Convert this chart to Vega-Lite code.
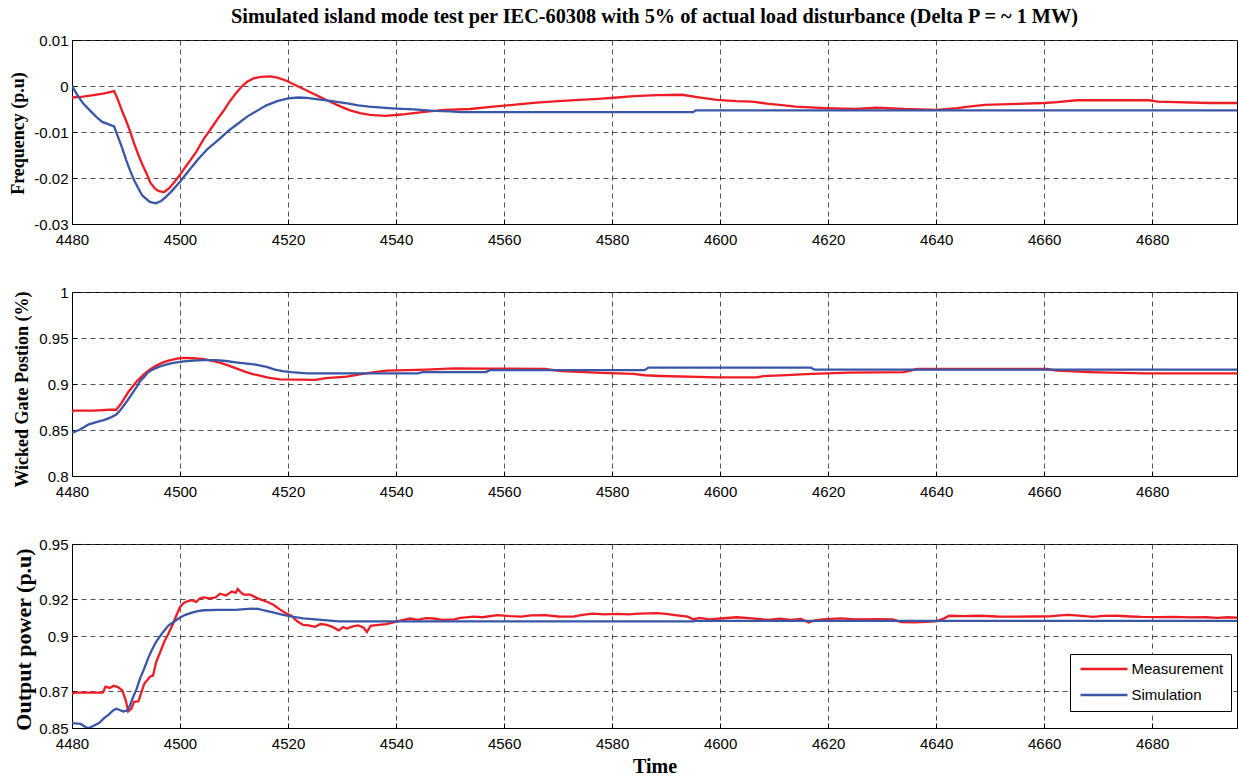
{
  "$schema": "https://vega.github.io/schema/vega-lite/v6.json",
  "background": "white",
  "padding": {"left": 8, "top": 6, "right": 0, "bottom": 0},
  "spacing": 68,
  "bounds": "flush",
  "datasets": {
    "freq": [
      {"t":4480,"v":-0.0025,"s":"Measurement"},{"t":4482,"v":-0.0023,"s":"Measurement"},{"t":4484,"v":-0.002,"s":"Measurement"},{"t":4486,"v":-0.0016,"s":"Measurement"},{"t":4487.8,"v":-0.0011,"s":"Measurement"},{"t":4488.5,"v":-0.003,"s":"Measurement"},{"t":4489.3,"v":-0.0055,"s":"Measurement"},{"t":4490,"v":-0.0075,"s":"Measurement"},{"t":4490.8,"v":-0.01,"s":"Measurement"},{"t":4491.5,"v":-0.0125,"s":"Measurement"},{"t":4492.3,"v":-0.015,"s":"Measurement"},{"t":4493,"v":-0.017,"s":"Measurement"},{"t":4493.8,"v":-0.019,"s":"Measurement"},{"t":4494.5,"v":-0.021,"s":"Measurement"},{"t":4495.3,"v":-0.0222,"s":"Measurement"},{"t":4496,"v":-0.0228,"s":"Measurement"},{"t":4497,"v":-0.0231,"s":"Measurement"},{"t":4498,"v":-0.0222,"s":"Measurement"},{"t":4499,"v":-0.0208,"s":"Measurement"},{"t":4500,"v":-0.0193,"s":"Measurement"},{"t":4501,"v":-0.0176,"s":"Measurement"},{"t":4502,"v":-0.016,"s":"Measurement"},{"t":4503,"v":-0.0143,"s":"Measurement"},{"t":4504.4,"v":-0.0115,"s":"Measurement"},{"t":4505,"v":-0.0105,"s":"Measurement"},{"t":4506,"v":-0.0088,"s":"Measurement"},{"t":4507,"v":-0.0071,"s":"Measurement"},{"t":4508,"v":-0.0055,"s":"Measurement"},{"t":4509.3,"v":-0.0032,"s":"Measurement"},{"t":4510.4,"v":-0.0015,"s":"Measurement"},{"t":4511.5,"v":0.0,"s":"Measurement"},{"t":4512.5,"v":0.001,"s":"Measurement"},{"t":4513.7,"v":0.0017,"s":"Measurement"},{"t":4515,"v":0.002,"s":"Measurement"},{"t":4516.7,"v":0.0021,"s":"Measurement"},{"t":4518,"v":0.0018,"s":"Measurement"},{"t":4519.6,"v":0.0012,"s":"Measurement"},{"t":4521,"v":0.0004,"s":"Measurement"},{"t":4522.6,"v":-0.0005,"s":"Measurement"},{"t":4524,"v":-0.0013,"s":"Measurement"},{"t":4525.6,"v":-0.0022,"s":"Measurement"},{"t":4527,"v":-0.003,"s":"Measurement"},{"t":4528.5,"v":-0.0038,"s":"Measurement"},{"t":4530,"v":-0.0046,"s":"Measurement"},{"t":4531.5,"v":-0.0053,"s":"Measurement"},{"t":4533.3,"v":-0.0059,"s":"Measurement"},{"t":4535.2,"v":-0.0063,"s":"Measurement"},{"t":4538,"v":-0.0065,"s":"Measurement"},{"t":4541,"v":-0.0062,"s":"Measurement"},{"t":4544.8,"v":-0.0057,"s":"Measurement"},{"t":4549,"v":-0.0052,"s":"Measurement"},{"t":4553.7,"v":-0.005,"s":"Measurement"},{"t":4558,"v":-0.0045,"s":"Measurement"},{"t":4562.6,"v":-0.004,"s":"Measurement"},{"t":4566,"v":-0.0036,"s":"Measurement"},{"t":4570,"v":-0.0033,"s":"Measurement"},{"t":4574,"v":-0.003,"s":"Measurement"},{"t":4577.4,"v":-0.0028,"s":"Measurement"},{"t":4581,"v":-0.0025,"s":"Measurement"},{"t":4584,"v":-0.0022,"s":"Measurement"},{"t":4588.3,"v":-0.002,"s":"Measurement"},{"t":4593,"v":-0.0019,"s":"Measurement"},{"t":4595.7,"v":-0.0024,"s":"Measurement"},{"t":4599.4,"v":-0.003,"s":"Measurement"},{"t":4603,"v":-0.0033,"s":"Measurement"},{"t":4606,"v":-0.0034,"s":"Measurement"},{"t":4609,"v":-0.0039,"s":"Measurement"},{"t":4611,"v":-0.0041,"s":"Measurement"},{"t":4614,"v":-0.0045,"s":"Measurement"},{"t":4619.4,"v":-0.0048,"s":"Measurement"},{"t":4625,"v":-0.005,"s":"Measurement"},{"t":4629,"v":-0.0047,"s":"Measurement"},{"t":4634,"v":-0.005,"s":"Measurement"},{"t":4640,"v":-0.0052,"s":"Measurement"},{"t":4643.9,"v":-0.0048,"s":"Measurement"},{"t":4646,"v":-0.0045,"s":"Measurement"},{"t":4649,"v":-0.0041,"s":"Measurement"},{"t":4655,"v":-0.0039,"s":"Measurement"},{"t":4660,"v":-0.0037,"s":"Measurement"},{"t":4662.4,"v":-0.0035,"s":"Measurement"},{"t":4666,"v":-0.0031,"s":"Measurement"},{"t":4679.4,"v":-0.0031,"s":"Measurement"},{"t":4681,"v":-0.0034,"s":"Measurement"},{"t":4690.5,"v":-0.0037,"s":"Measurement"},{"t":4696,"v":-0.0037,"s":"Measurement"},
      {"t":4480,"v":0.0,"s":"Simulation"},{"t":4481,"v":-0.002,"s":"Simulation"},{"t":4482,"v":-0.0037,"s":"Simulation"},{"t":4483.3,"v":-0.0053,"s":"Simulation"},{"t":4484.5,"v":-0.0067,"s":"Simulation"},{"t":4485.6,"v":-0.0078,"s":"Simulation"},{"t":4487.8,"v":-0.0088,"s":"Simulation"},{"t":4488.5,"v":-0.011,"s":"Simulation"},{"t":4489.3,"v":-0.0135,"s":"Simulation"},{"t":4490,"v":-0.016,"s":"Simulation"},{"t":4490.8,"v":-0.0185,"s":"Simulation"},{"t":4491.5,"v":-0.0205,"s":"Simulation"},{"t":4492.3,"v":-0.0223,"s":"Simulation"},{"t":4493,"v":-0.0238,"s":"Simulation"},{"t":4494.4,"v":-0.0252,"s":"Simulation"},{"t":4495.5,"v":-0.0255,"s":"Simulation"},{"t":4496.5,"v":-0.025,"s":"Simulation"},{"t":4497.4,"v":-0.0241,"s":"Simulation"},{"t":4498.5,"v":-0.0228,"s":"Simulation"},{"t":4500,"v":-0.0208,"s":"Simulation"},{"t":4501.5,"v":-0.0186,"s":"Simulation"},{"t":4503.3,"v":-0.016,"s":"Simulation"},{"t":4505,"v":-0.0138,"s":"Simulation"},{"t":4507,"v":-0.0118,"s":"Simulation"},{"t":4509,"v":-0.0097,"s":"Simulation"},{"t":4510.7,"v":-0.0082,"s":"Simulation"},{"t":4512.5,"v":-0.0066,"s":"Simulation"},{"t":4514.4,"v":-0.0053,"s":"Simulation"},{"t":4516,"v":-0.0042,"s":"Simulation"},{"t":4518,"v":-0.0033,"s":"Simulation"},{"t":4520,"v":-0.0027,"s":"Simulation"},{"t":4521.9,"v":-0.0025,"s":"Simulation"},{"t":4523.5,"v":-0.0026,"s":"Simulation"},{"t":4525.6,"v":-0.0029,"s":"Simulation"},{"t":4527.5,"v":-0.0032,"s":"Simulation"},{"t":4529.3,"v":-0.0035,"s":"Simulation"},{"t":4531,"v":-0.0038,"s":"Simulation"},{"t":4533,"v":-0.0042,"s":"Simulation"},{"t":4535,"v":-0.0045,"s":"Simulation"},{"t":4537.4,"v":-0.0047,"s":"Simulation"},{"t":4540,"v":-0.0049,"s":"Simulation"},{"t":4543.3,"v":-0.0051,"s":"Simulation"},{"t":4547,"v":-0.0054,"s":"Simulation"},{"t":4550,"v":-0.0055,"s":"Simulation"},{"t":4552,"v":-0.0057,"s":"Simulation"},{"t":4595,"v":-0.0057,"s":"Simulation"},{"t":4595.5,"v":-0.0053,"s":"Simulation"},{"t":4696,"v":-0.0053,"s":"Simulation"}
    ],
    "gate": [
      {"t":4480,"v":0.869,"s":"Measurement"},{"t":4480.3,"v":0.871,"s":"Measurement"},{"t":4484,"v":0.871,"s":"Measurement"},{"t":4487,"v":0.872,"s":"Measurement"},{"t":4488.2,"v":0.872,"s":"Measurement"},{"t":4489,"v":0.878,"s":"Measurement"},{"t":4490.4,"v":0.891,"s":"Measurement"},{"t":4492,"v":0.903,"s":"Measurement"},{"t":4493.4,"v":0.911,"s":"Measurement"},{"t":4494.5,"v":0.916,"s":"Measurement"},{"t":4495.6,"v":0.92,"s":"Measurement"},{"t":4497,"v":0.9237,"s":"Measurement"},{"t":4497.9,"v":0.9254,"s":"Measurement"},{"t":4499,"v":0.927,"s":"Measurement"},{"t":4500,"v":0.928,"s":"Measurement"},{"t":4501,"v":0.9285,"s":"Measurement"},{"t":4502.4,"v":0.928,"s":"Measurement"},{"t":4504.5,"v":0.927,"s":"Measurement"},{"t":4506,"v":0.925,"s":"Measurement"},{"t":4507.5,"v":0.923,"s":"Measurement"},{"t":4509,"v":0.92,"s":"Measurement"},{"t":4510.4,"v":0.917,"s":"Measurement"},{"t":4512,"v":0.9135,"s":"Measurement"},{"t":4513.3,"v":0.911,"s":"Measurement"},{"t":4514.8,"v":0.909,"s":"Measurement"},{"t":4516.3,"v":0.907,"s":"Measurement"},{"t":4518.5,"v":0.905,"s":"Measurement"},{"t":4525,"v":0.9045,"s":"Measurement"},{"t":4527,"v":0.9065,"s":"Measurement"},{"t":4530.9,"v":0.908,"s":"Measurement"},{"t":4533.8,"v":0.911,"s":"Measurement"},{"t":4536,"v":0.913,"s":"Measurement"},{"t":4538.2,"v":0.9145,"s":"Measurement"},{"t":4545.6,"v":0.9156,"s":"Measurement"},{"t":4550.7,"v":0.917,"s":"Measurement"},{"t":4557.4,"v":0.9167,"s":"Measurement"},{"t":4567.6,"v":0.9163,"s":"Measurement"},{"t":4570.6,"v":0.914,"s":"Measurement"},{"t":4578,"v":0.912,"s":"Measurement"},{"t":4584,"v":0.911,"s":"Measurement"},{"t":4586,"v":0.9095,"s":"Measurement"},{"t":4589,"v":0.9087,"s":"Measurement"},{"t":4599.4,"v":0.9072,"s":"Measurement"},{"t":4606.8,"v":0.9072,"s":"Measurement"},{"t":4608,"v":0.9085,"s":"Measurement"},{"t":4611.3,"v":0.9094,"s":"Measurement"},{"t":4617,"v":0.911,"s":"Measurement"},{"t":4623.8,"v":0.9123,"s":"Measurement"},{"t":4634,"v":0.913,"s":"Measurement"},{"t":4636.5,"v":0.9163,"s":"Measurement"},{"t":4660.5,"v":0.9163,"s":"Measurement"},{"t":4662.4,"v":0.9145,"s":"Measurement"},{"t":4668.3,"v":0.913,"s":"Measurement"},{"t":4678.7,"v":0.9116,"s":"Measurement"},{"t":4696,"v":0.9116,"s":"Measurement"},
      {"t":4480,"v":0.8467,"s":"Simulation"},{"t":4481.5,"v":0.8505,"s":"Simulation"},{"t":4483,"v":0.8558,"s":"Simulation"},{"t":4484.5,"v":0.8585,"s":"Simulation"},{"t":4486,"v":0.861,"s":"Simulation"},{"t":4487.3,"v":0.864,"s":"Simulation"},{"t":4488.2,"v":0.8667,"s":"Simulation"},{"t":4489,"v":0.872,"s":"Simulation"},{"t":4489.7,"v":0.8775,"s":"Simulation"},{"t":4490.5,"v":0.884,"s":"Simulation"},{"t":4491.2,"v":0.89,"s":"Simulation"},{"t":4492,"v":0.897,"s":"Simulation"},{"t":4492.6,"v":0.903,"s":"Simulation"},{"t":4493.4,"v":0.908,"s":"Simulation"},{"t":4494.1,"v":0.9127,"s":"Simulation"},{"t":4495.2,"v":0.9165,"s":"Simulation"},{"t":4496.3,"v":0.919,"s":"Simulation"},{"t":4497.4,"v":0.921,"s":"Simulation"},{"t":4498.5,"v":0.9228,"s":"Simulation"},{"t":4500.7,"v":0.9246,"s":"Simulation"},{"t":4502.5,"v":0.9255,"s":"Simulation"},{"t":4504.4,"v":0.926,"s":"Simulation"},{"t":4506.6,"v":0.926,"s":"Simulation"},{"t":4508.5,"v":0.925,"s":"Simulation"},{"t":4510.3,"v":0.9236,"s":"Simulation"},{"t":4512,"v":0.9225,"s":"Simulation"},{"t":4514,"v":0.921,"s":"Simulation"},{"t":4516,"v":0.9185,"s":"Simulation"},{"t":4517.6,"v":0.9156,"s":"Simulation"},{"t":4519,"v":0.914,"s":"Simulation"},{"t":4520.6,"v":0.913,"s":"Simulation"},{"t":4523.5,"v":0.9116,"s":"Simulation"},{"t":4544,"v":0.9116,"s":"Simulation"},{"t":4544.9,"v":0.913,"s":"Simulation"},{"t":4556.6,"v":0.913,"s":"Simulation"},{"t":4557.4,"v":0.915,"s":"Simulation"},{"t":4586,"v":0.915,"s":"Simulation"},{"t":4586.7,"v":0.9178,"s":"Simulation"},{"t":4616.8,"v":0.9178,"s":"Simulation"},{"t":4617.5,"v":0.9156,"s":"Simulation"},{"t":4696,"v":0.9156,"s":"Simulation"}
    ],
    "power": [
      {"t":4480,"v":0.8685,"s":"Measurement"},{"t":4480.5,"v":0.8692,"s":"Measurement"},{"t":4483,"v":0.8692,"s":"Measurement"},{"t":4485.7,"v":0.8692,"s":"Measurement"},{"t":4486.2,"v":0.8725,"s":"Measurement"},{"t":4487,"v":0.8718,"s":"Measurement"},{"t":4487.7,"v":0.873,"s":"Measurement"},{"t":4488.5,"v":0.8722,"s":"Measurement"},{"t":4489.3,"v":0.8705,"s":"Measurement"},{"t":4490,"v":0.8645,"s":"Measurement"},{"t":4490.4,"v":0.859,"s":"Measurement"},{"t":4491,"v":0.8605,"s":"Measurement"},{"t":4491.5,"v":0.8642,"s":"Measurement"},{"t":4492.3,"v":0.8645,"s":"Measurement"},{"t":4492.8,"v":0.869,"s":"Measurement"},{"t":4493.4,"v":0.8742,"s":"Measurement"},{"t":4494.5,"v":0.878,"s":"Measurement"},{"t":4495,"v":0.8785,"s":"Measurement"},{"t":4495.6,"v":0.886,"s":"Measurement"},{"t":4496.3,"v":0.891,"s":"Measurement"},{"t":4497.1,"v":0.897,"s":"Measurement"},{"t":4497.8,"v":0.901,"s":"Measurement"},{"t":4498.6,"v":0.906,"s":"Measurement"},{"t":4499.3,"v":0.911,"s":"Measurement"},{"t":4500,"v":0.9158,"s":"Measurement"},{"t":4500.7,"v":0.918,"s":"Measurement"},{"t":4501.5,"v":0.919,"s":"Measurement"},{"t":4502.2,"v":0.9195,"s":"Measurement"},{"t":4503,"v":0.9185,"s":"Measurement"},{"t":4503.7,"v":0.9205,"s":"Measurement"},{"t":4504.4,"v":0.921,"s":"Measurement"},{"t":4505.5,"v":0.9205,"s":"Measurement"},{"t":4506.6,"v":0.921,"s":"Measurement"},{"t":4507.4,"v":0.923,"s":"Measurement"},{"t":4508.5,"v":0.922,"s":"Measurement"},{"t":4509.6,"v":0.9242,"s":"Measurement"},{"t":4510.3,"v":0.9235,"s":"Measurement"},{"t":4510.7,"v":0.9255,"s":"Measurement"},{"t":4511.2,"v":0.9238,"s":"Measurement"},{"t":4511.8,"v":0.9225,"s":"Measurement"},{"t":4513,"v":0.9225,"s":"Measurement"},{"t":4514,"v":0.921,"s":"Measurement"},{"t":4515,"v":0.9198,"s":"Measurement"},{"t":4516.2,"v":0.9185,"s":"Measurement"},{"t":4517.3,"v":0.917,"s":"Measurement"},{"t":4518.4,"v":0.9146,"s":"Measurement"},{"t":4519.5,"v":0.9125,"s":"Measurement"},{"t":4520.6,"v":0.911,"s":"Measurement"},{"t":4521.7,"v":0.908,"s":"Measurement"},{"t":4522.8,"v":0.906,"s":"Measurement"},{"t":4523.8,"v":0.9058,"s":"Measurement"},{"t":4525,"v":0.905,"s":"Measurement"},{"t":4526,"v":0.9065,"s":"Measurement"},{"t":4527.2,"v":0.906,"s":"Measurement"},{"t":4528.3,"v":0.9048,"s":"Measurement"},{"t":4529.4,"v":0.903,"s":"Measurement"},{"t":4530.2,"v":0.9048,"s":"Measurement"},{"t":4530.9,"v":0.904,"s":"Measurement"},{"t":4532,"v":0.9052,"s":"Measurement"},{"t":4533,"v":0.9058,"s":"Measurement"},{"t":4534,"v":0.9045,"s":"Measurement"},{"t":4534.6,"v":0.9022,"s":"Measurement"},{"t":4535.3,"v":0.9055,"s":"Measurement"},{"t":4536.8,"v":0.906,"s":"Measurement"},{"t":4538.2,"v":0.9065,"s":"Measurement"},{"t":4539.7,"v":0.9076,"s":"Measurement"},{"t":4541,"v":0.9085,"s":"Measurement"},{"t":4542.6,"v":0.9095,"s":"Measurement"},{"t":4544,"v":0.9088,"s":"Measurement"},{"t":4545.5,"v":0.9097,"s":"Measurement"},{"t":4547,"v":0.9095,"s":"Measurement"},{"t":4548.5,"v":0.9088,"s":"Measurement"},{"t":4550.7,"v":0.909,"s":"Measurement"},{"t":4552,"v":0.9098,"s":"Measurement"},{"t":4554.4,"v":0.9105,"s":"Measurement"},{"t":4556,"v":0.9102,"s":"Measurement"},{"t":4558.8,"v":0.9113,"s":"Measurement"},{"t":4561,"v":0.9108,"s":"Measurement"},{"t":4563.2,"v":0.9105,"s":"Measurement"},{"t":4565,"v":0.9112,"s":"Measurement"},{"t":4567.6,"v":0.9113,"s":"Measurement"},{"t":4570,"v":0.9106,"s":"Measurement"},{"t":4572.8,"v":0.9105,"s":"Measurement"},{"t":4574.5,"v":0.9115,"s":"Measurement"},{"t":4576.5,"v":0.9122,"s":"Measurement"},{"t":4578.5,"v":0.9118,"s":"Measurement"},{"t":4581,"v":0.912,"s":"Measurement"},{"t":4583,"v":0.9117,"s":"Measurement"},{"t":4585,"v":0.9122,"s":"Measurement"},{"t":4588.3,"v":0.9124,"s":"Measurement"},{"t":4590,"v":0.912,"s":"Measurement"},{"t":4592,"v":0.9112,"s":"Measurement"},{"t":4594,"v":0.9105,"s":"Measurement"},{"t":4595,"v":0.9091,"s":"Measurement"},{"t":4596.2,"v":0.9098,"s":"Measurement"},{"t":4598,"v":0.909,"s":"Measurement"},{"t":4600,"v":0.9095,"s":"Measurement"},{"t":4603,"v":0.9102,"s":"Measurement"},{"t":4606,"v":0.9096,"s":"Measurement"},{"t":4609,"v":0.9087,"s":"Measurement"},{"t":4611,"v":0.9094,"s":"Measurement"},{"t":4613,"v":0.9088,"s":"Measurement"},{"t":4615,"v":0.9093,"s":"Measurement"},{"t":4616.4,"v":0.9073,"s":"Measurement"},{"t":4617.5,"v":0.9085,"s":"Measurement"},{"t":4619,"v":0.909,"s":"Measurement"},{"t":4622.4,"v":0.9096,"s":"Measurement"},{"t":4625,"v":0.909,"s":"Measurement"},{"t":4629,"v":0.9092,"s":"Measurement"},{"t":4632,"v":0.909,"s":"Measurement"},{"t":4633.5,"v":0.9075,"s":"Measurement"},{"t":4636,"v":0.9074,"s":"Measurement"},{"t":4638,"v":0.9077,"s":"Measurement"},{"t":4640,"v":0.908,"s":"Measurement"},{"t":4641.5,"v":0.9096,"s":"Measurement"},{"t":4642.4,"v":0.911,"s":"Measurement"},{"t":4645,"v":0.9108,"s":"Measurement"},{"t":4648,"v":0.911,"s":"Measurement"},{"t":4651.3,"v":0.9106,"s":"Measurement"},{"t":4655,"v":0.9105,"s":"Measurement"},{"t":4658,"v":0.9106,"s":"Measurement"},{"t":4660.9,"v":0.9107,"s":"Measurement"},{"t":4663,"v":0.9112,"s":"Measurement"},{"t":4664.6,"v":0.9115,"s":"Measurement"},{"t":4667,"v":0.9109,"s":"Measurement"},{"t":4669,"v":0.9104,"s":"Measurement"},{"t":4671,"v":0.9109,"s":"Measurement"},{"t":4673.5,"v":0.911,"s":"Measurement"},{"t":4676,"v":0.9106,"s":"Measurement"},{"t":4678,"v":0.9104,"s":"Measurement"},{"t":4681,"v":0.9103,"s":"Measurement"},{"t":4684,"v":0.9104,"s":"Measurement"},{"t":4687,"v":0.9101,"s":"Measurement"},{"t":4690,"v":0.9102,"s":"Measurement"},{"t":4692,"v":0.9099,"s":"Measurement"},{"t":4694,"v":0.9102,"s":"Measurement"},{"t":4696,"v":0.91,"s":"Measurement"},
      {"t":4480,"v":0.8527,"s":"Simulation"},{"t":4481.6,"v":0.8522,"s":"Simulation"},{"t":4482.5,"v":0.8505,"s":"Simulation"},{"t":4483.1,"v":0.85,"s":"Simulation"},{"t":4484,"v":0.8512,"s":"Simulation"},{"t":4485,"v":0.8527,"s":"Simulation"},{"t":4486,"v":0.8555,"s":"Simulation"},{"t":4486.8,"v":0.8573,"s":"Simulation"},{"t":4487.6,"v":0.8595,"s":"Simulation"},{"t":4488.2,"v":0.8605,"s":"Simulation"},{"t":4488.8,"v":0.8598,"s":"Simulation"},{"t":4489.5,"v":0.859,"s":"Simulation"},{"t":4490.2,"v":0.8595,"s":"Simulation"},{"t":4490.7,"v":0.862,"s":"Simulation"},{"t":4491.2,"v":0.866,"s":"Simulation"},{"t":4492,"v":0.8715,"s":"Simulation"},{"t":4492.6,"v":0.877,"s":"Simulation"},{"t":4493.4,"v":0.8825,"s":"Simulation"},{"t":4494.1,"v":0.888,"s":"Simulation"},{"t":4494.8,"v":0.8925,"s":"Simulation"},{"t":4495.6,"v":0.897,"s":"Simulation"},{"t":4496.7,"v":0.9015,"s":"Simulation"},{"t":4497.8,"v":0.9055,"s":"Simulation"},{"t":4499,"v":0.908,"s":"Simulation"},{"t":4500,"v":0.91,"s":"Simulation"},{"t":4501,"v":0.9115,"s":"Simulation"},{"t":4502.2,"v":0.9127,"s":"Simulation"},{"t":4503.3,"v":0.9135,"s":"Simulation"},{"t":4504.4,"v":0.914,"s":"Simulation"},{"t":4507,"v":0.9142,"s":"Simulation"},{"t":4510.3,"v":0.9142,"s":"Simulation"},{"t":4513.2,"v":0.9149,"s":"Simulation"},{"t":4514.5,"v":0.9147,"s":"Simulation"},{"t":4515.4,"v":0.914,"s":"Simulation"},{"t":4517,"v":0.913,"s":"Simulation"},{"t":4519.1,"v":0.9115,"s":"Simulation"},{"t":4521,"v":0.9104,"s":"Simulation"},{"t":4522.8,"v":0.9096,"s":"Simulation"},{"t":4525,"v":0.909,"s":"Simulation"},{"t":4527.2,"v":0.9085,"s":"Simulation"},{"t":4529.4,"v":0.9079,"s":"Simulation"},{"t":4595,"v":0.9079,"s":"Simulation"},{"t":4595.5,"v":0.9082,"s":"Simulation"},{"t":4696,"v":0.9082,"s":"Simulation"}
    ]
  },
  "vconcat": [
    {
      "width": 1165, "height": 184,
      "title": {"text": "Simulated island mode test per IEC-60308 with 5% of actual load disturbance (Delta P = ~ 1 MW)", "font": "Liberation Serif", "fontSize": 20.3, "fontWeight": "bold", "color": "#000", "anchor": "middle", "frame": "group", "baseline": "alphabetic", "offset": -10},
      "data": {"name": "freq"},
      "mark": {"type": "line", "strokeWidth": 2.3, "clip": true},
      "encoding": {
        "x": {"field": "t", "type": "quantitative", "scale": {"domain": [4480, 4695.7], "nice": false, "zero": false},
              "axis": {"title": null, "values": [4480,4500,4520,4540,4560,4580,4600,4620,4640,4660,4680], "format": "d", "labelPadding": 13}},
        "y": {"field": "v", "type": "quantitative", "scale": {"domain": [-0.03, 0.01], "nice": false, "zero": false},
              "axis": {"title": "Frequency (p.u)", "titleFontSize": 18, "values": [-0.03,-0.02,-0.01,0,0.01], "labelExpr": "datum.value < 0 ? '-' + format(-datum.value, '.2~f') : format(datum.value, '.2~f')", "labelPadding": 9, "titleX": -54, "titleY": 93, "titleBaseline": "middle", "titleAngle": -90}},
        "color": {"field": "s", "type": "nominal", "scale": {"domain": ["Measurement", "Simulation"], "range": ["#ee1c25", "#3a57a7"]}, "legend": null}
      }
    },
    {
      "width": 1165, "height": 184,
      "data": {"name": "gate"},
      "mark": {"type": "line", "strokeWidth": 2.3, "clip": true},
      "encoding": {
        "x": {"field": "t", "type": "quantitative", "scale": {"domain": [4480, 4695.7], "nice": false, "zero": false},
              "axis": {"title": null, "values": [4480,4500,4520,4540,4560,4580,4600,4620,4640,4660,4680], "format": "d", "labelPadding": 13}},
        "y": {"field": "v", "type": "quantitative", "scale": {"domain": [0.8, 1], "nice": false, "zero": false},
              "axis": {"title": "Wicked Gate Postion (%)", "titleFontSize": 18, "values": [0.8,0.85,0.9,0.95,1], "labelExpr": "format(datum.value, '.2~f')", "labelPadding": 9, "titleX": -50, "titleY": 97, "titleBaseline": "middle", "titleAngle": -90}},
        "color": {"field": "s", "type": "nominal", "scale": {"domain": ["Measurement", "Simulation"], "range": ["#ee1c25", "#3a57a7"]}, "legend": null}
      }
    },
    {
      "width": 1165, "height": 184,
      "data": {"name": "power"},
      "mark": {"type": "line", "strokeWidth": 2.3, "clip": true},
      "encoding": {
        "x": {"field": "t", "type": "quantitative", "scale": {"domain": [4480, 4695.7], "nice": false, "zero": false},
              "axis": {"title": "Time", "titleFontSize": 20, "titlePadding": 5, "values": [4480,4500,4520,4540,4560,4580,4600,4620,4640,4660,4680], "format": "d", "labelPadding": 13}},
        "y": {"field": "v", "type": "quantitative", "scale": {"domain": [0.85, 0.95], "nice": false, "zero": false},
              "axis": {"title": "Output power (p.u)", "titleFontSize": 22, "values": [0.85,0.87,0.9,0.92,0.95], "labelExpr": "format(datum.value, '.2~f')", "labelPadding": 9, "titleX": -49, "titleY": 95, "titleBaseline": "middle", "titleAngle": -90}},
        "color": {"field": "s", "type": "nominal", "scale": {"domain": ["Measurement", "Simulation"], "range": ["#ee1c25", "#3a57a7"]},
                  "legend": {"title": null, "orient": "none", "legendX": 998, "legendY": 110, "symbolType": "M-4.7,0H4.7", "symbolSize": 100, "symbolStrokeWidth": 2.5, "symbolOffset": 19, "labelOffset": 20, "labelFont": "Liberation Sans", "labelFontSize": 15, "labelColor": "#000", "labelLimit": 300, "strokeColor": "#000", "fillColor": "#fff", "padding": 7.5, "rowPadding": 10}}
      }
    }
  ],
  "resolve": {"legend": {"color": "independent"}},
  "config": {
    "view": {"stroke": "#000", "strokeWidth": 1},
    "axis": {"labelFont": "Liberation Sans", "labelFontSize": 15, "labelColor": "#000", "labelFlush": false, "labelOverlap": false, "domainColor": "#000", "tickColor": "#000", "tickSize": -5, "gridColor": "#333", "gridDash": [5, 4], "gridWidth": 1, "gridOpacity": 0.85, "titleFont": "Liberation Serif", "titleFontWeight": "bold", "titleColor": "#000"}
  }
}
